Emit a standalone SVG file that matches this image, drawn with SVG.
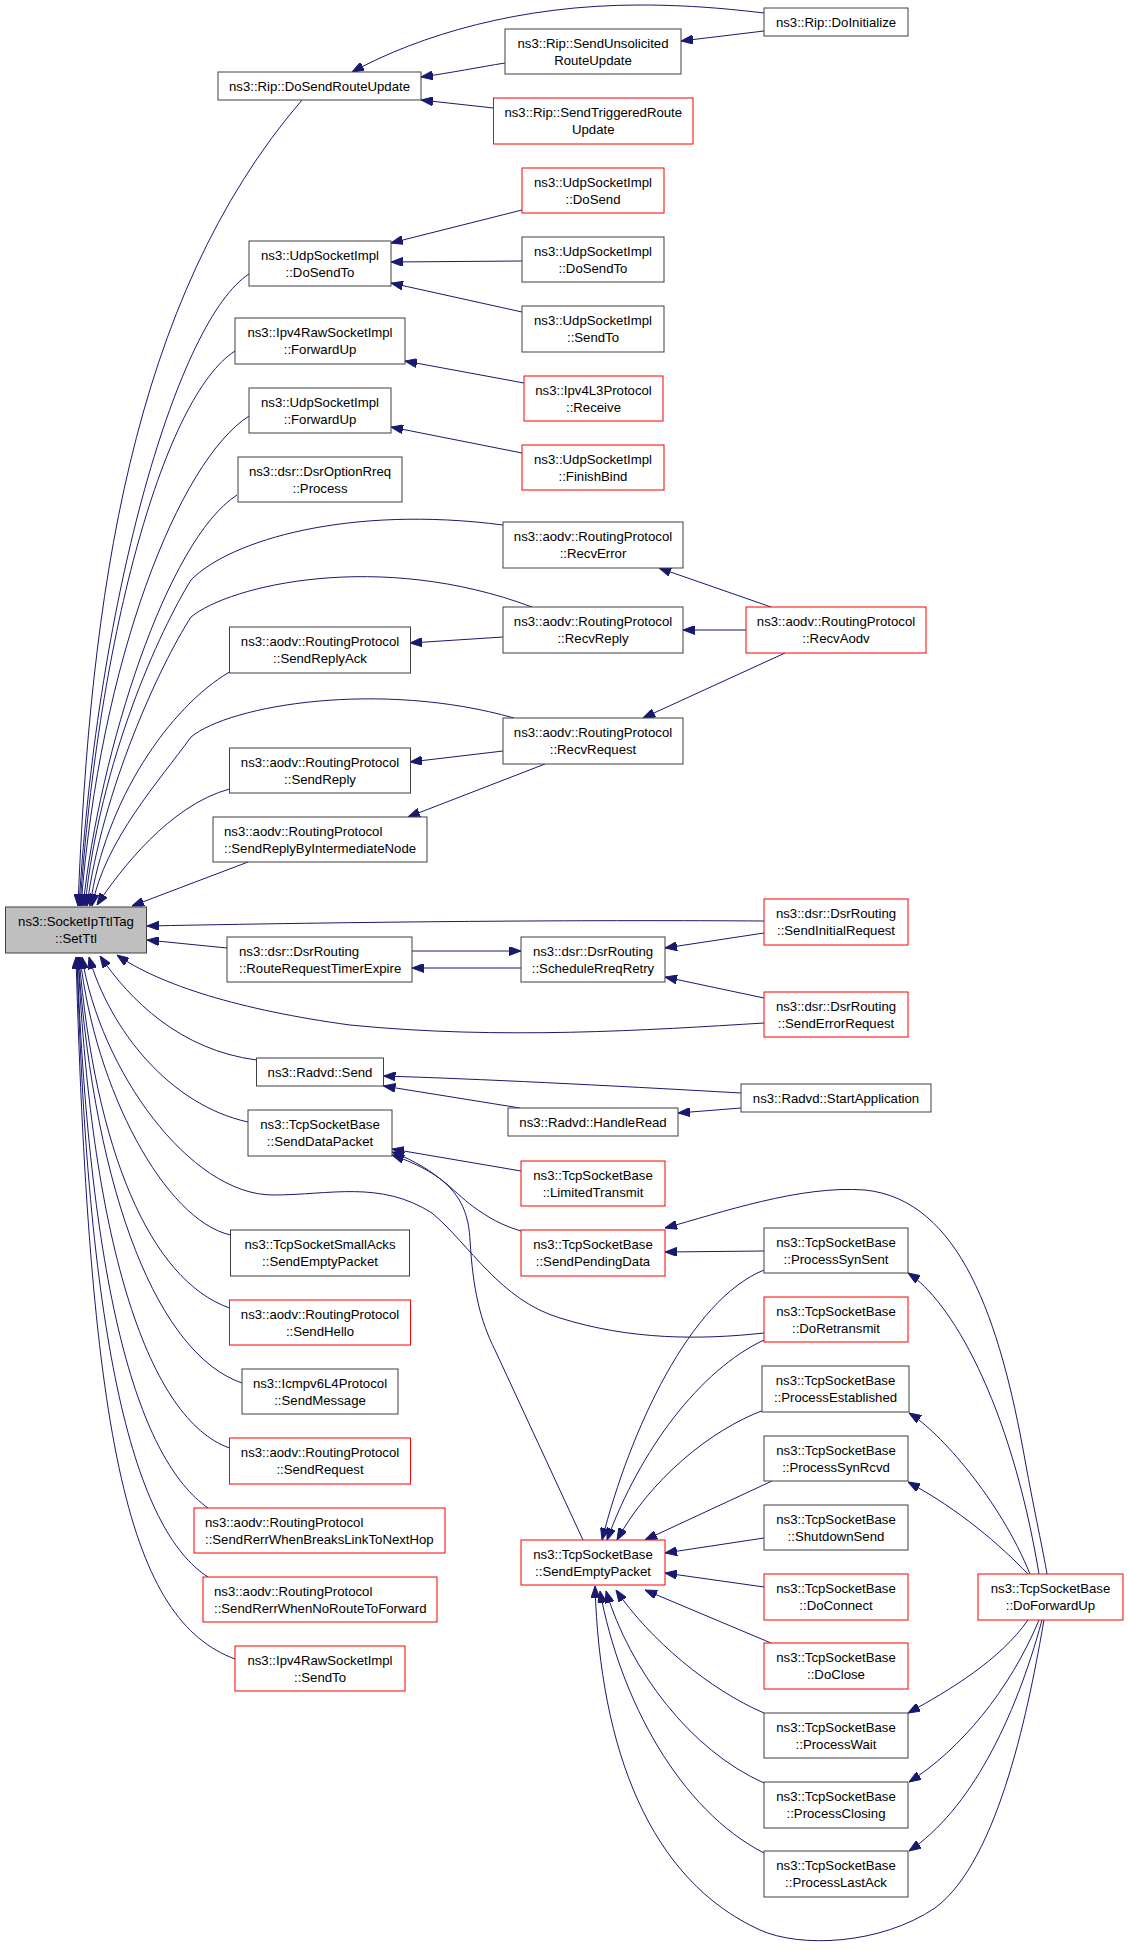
<svg xmlns="http://www.w3.org/2000/svg" width="1128" height="1950" viewBox="0 0 1128 1950">
<style>
.n rect{fill:#ffffff;stroke:#404040;stroke-width:1}
.n.r rect{stroke:#ff0000}
.n.g rect{fill:#bfbfbf}
.n text{font-family:"Liberation Sans",Arial,Helvetica,sans-serif;font-size:13.2px;fill:#000000;text-anchor:middle}
.n text.l{text-anchor:start}
#edges path{fill:none;stroke:#191970;stroke-width:1;marker-start:url(#a)}
</style>
<defs>
<marker id="a" viewBox="0 0 12 9" refX="12" refY="4.5" markerWidth="12" markerHeight="9" markerUnits="userSpaceOnUse" orient="auto-start-reverse">
<path d="M0,0 L12,4.5 L0,9 z" fill="#191970" stroke="#191970" stroke-width="1"/>
</marker>
</defs>
<rect x="0" y="0" width="1128" height="1950" fill="#ffffff"/>
<g id="edges">
<path d="M78,906 C90,600 130,300 302,100"/>
<path d="M79,906 C98,590 179,319 249,274"/>
<path d="M80,906 C99,630 165,396 235,351"/>
<path d="M81,906 C100,660 179,461 249,416"/>
<path d="M83,906 C100,750 167,540 237,495"/>
<path d="M85,906 C100,760 160,630 191,580 C230,540 350,505 503,525"/>
<path d="M87,906 C102,790 160,665 191,617 C230,585 380,550 532,607"/>
<path d="M90,906 C105,800 170,707 229.5,672"/>
<path d="M92,906 C105,840 160,780 191,737 C230,705 380,680 514,718"/>
<path d="M97,905 C120,870 170,805 229.5,789"/>
<path d="M132,906 L248,862"/>
<path d="M147,926 C400,921 600,920 764,921"/>
<path d="M147,940 L227,948"/>
<path d="M117,955 C160,985 240,1010 350,1025 C500,1040 650,1030 764,1023"/>
<path d="M100,956 C130,1000 180,1050 256.5,1060"/>
<path d="M89,957 C110,1030 170,1105 248,1122"/>
<path d="M82,957 C100,1070 190,1195 273,1195 C330,1195 380,1180 432,1213 C470,1245 500,1300 560,1318 C630,1340 700,1340 764,1333"/>
<path d="M80,957 C95,1090 165,1220 230.5,1235"/>
<path d="M79,957 C95,1150 150,1280 229.5,1308"/>
<path d="M78,957 C95,1200 160,1355 242,1383"/>
<path d="M78,957 C92,1250 150,1420 229.5,1448"/>
<path d="M77,957 C90,1300 140,1460 208,1508"/>
<path d="M77,957 C88,1350 135,1530 208,1577"/>
<path d="M76,957 C90,1450 130,1620 235,1659"/>
<path d="M352,72 C420,35 520,5 640,5 C690,5 730,9 764,13"/>
<path d="M421,77 C450,73 480,67 505,63"/>
<path d="M421,100 L493.5,108"/>
<path d="M681,41 L764,31"/>
<path d="M391,243 L522,210"/>
<path d="M391,262 L522,261"/>
<path d="M391,283 L522,312"/>
<path d="M405,361 L524,383"/>
<path d="M391,427 L522,453"/>
<path d="M659,568 L771,607"/>
<path d="M683,630 L746,630"/>
<path d="M643,718 L785,653"/>
<path d="M410,643 L503,637"/>
<path d="M410,762 L503,751"/>
<path d="M408,817 L545,764"/>
<path d="M521,951 L412,951"/>
<path d="M412,968 L521,968"/>
<path d="M665,948 L764,933"/>
<path d="M665,977 L764,998"/>
<path d="M383.5,1076 C480,1079 600,1085 741,1093"/>
<path d="M383.5,1086 L520,1108"/>
<path d="M678,1113 L741,1108"/>
<path d="M392,1149 L521,1171"/>
<path d="M392,1152 C440,1170 455,1195 478,1210 C495,1222 508,1227 521,1231"/>
<path d="M392,1155 C450,1175 468,1200 470,1240 C473,1290 480,1320 495,1350 L583,1540"/>
<path d="M665,1252 L764,1251"/>
<path d="M665,1228 C720,1213 800,1185 865,1190 C960,1200 1000,1320 1025,1460 C1035,1515 1043,1550 1047,1574"/>
<path d="M908,1273 C950,1300 1010,1400 1039,1574"/>
<path d="M909,1413 C940,1432 1000,1500 1030,1574"/>
<path d="M908,1482 C960,1510 1000,1545 1028,1574"/>
<path d="M908,1713 C950,1690 1000,1660 1028,1620"/>
<path d="M909,1782 C960,1750 1010,1690 1039,1620"/>
<path d="M909,1851 C970,1810 1015,1720 1042,1620"/>
<path d="M595,1586 C600,1750 650,1880 760,1930 C800,1948 880,1945 935,1908 C1000,1860 1030,1700 1044,1620"/>
<path d="M602,1540 C630,1430 690,1300 764,1270"/>
<path d="M607,1540 C640,1450 700,1370 764,1340"/>
<path d="M617,1540 C650,1480 710,1430 764,1410"/>
<path d="M645,1540 L772,1481"/>
<path d="M665,1553 L764,1538"/>
<path d="M665,1573 L764,1587"/>
<path d="M645,1590 L771,1643"/>
<path d="M616,1590 C650,1640 710,1690 764,1713"/>
<path d="M606,1591 C630,1670 690,1750 764,1783"/>
<path d="M600,1591 C620,1700 680,1810 764,1853"/>
</g>
<g id="settl" class="n g"><rect x="5.5" y="907" width="141" height="46"/><text x="76" y="925.5">ns3::SocketIpTtlTag</text><text x="76" y="942.5">::SetTtl</text></g>
<g id="dosendrouteupdate" class="n"><rect x="218" y="72" width="203" height="28"/><text x="319.5" y="90.5">ns3::Rip::DoSendRouteUpdate</text></g>
<g id="sendunsolicited" class="n"><rect x="505" y="29" width="176" height="45"/><text x="593" y="47.5">ns3::Rip::SendUnsolicited</text><text x="593" y="64.5">RouteUpdate</text></g>
<g id="sendtriggered" class="n r"><rect x="493.5" y="98" width="199.5" height="46"/><text x="593.25" y="116.5">ns3::Rip::SendTriggeredRoute</text><text x="593.25" y="133.5">Update</text></g>
<g id="doinitialize" class="n"><rect x="764" y="8" width="144" height="28"/><text x="836" y="26.5">ns3::Rip::DoInitialize</text></g>
<g id="udpdosend" class="n r"><rect x="522" y="168" width="142" height="45"/><text x="593" y="186.5">ns3::UdpSocketImpl</text><text x="593" y="203.5">::DoSend</text></g>
<g id="udpdosendto_r" class="n"><rect x="522" y="237" width="142" height="45"/><text x="593" y="255.5">ns3::UdpSocketImpl</text><text x="593" y="272.5">::DoSendTo</text></g>
<g id="udpsendto" class="n"><rect x="522" y="306" width="142" height="46"/><text x="593" y="324.5">ns3::UdpSocketImpl</text><text x="593" y="341.5">::SendTo</text></g>
<g id="ipv4l3receive" class="n r"><rect x="524" y="376" width="139" height="45"/><text x="593.5" y="394.5">ns3::Ipv4L3Protocol</text><text x="593.5" y="411.5">::Receive</text></g>
<g id="finishbind" class="n r"><rect x="522" y="445" width="142" height="45"/><text x="593" y="463.5">ns3::UdpSocketImpl</text><text x="593" y="480.5">::FinishBind</text></g>
<g id="udpdosendto_l" class="n"><rect x="249" y="241" width="142" height="45"/><text x="320" y="259.5">ns3::UdpSocketImpl</text><text x="320" y="276.5">::DoSendTo</text></g>
<g id="ipv4rawforwardup" class="n"><rect x="235" y="318" width="170" height="46"/><text x="320" y="336.5">ns3::Ipv4RawSocketImpl</text><text x="320" y="353.5">::ForwardUp</text></g>
<g id="udpforwardup" class="n"><rect x="249" y="388" width="142" height="45"/><text x="320" y="406.5">ns3::UdpSocketImpl</text><text x="320" y="423.5">::ForwardUp</text></g>
<g id="dsroptionrreq" class="n"><rect x="238" y="457" width="164" height="45"/><text x="320" y="475.5">ns3::dsr::DsrOptionRreq</text><text x="320" y="492.5">::Process</text></g>
<g id="recverror" class="n"><rect x="503" y="522" width="180" height="46"/><text x="593" y="540.5">ns3::aodv::RoutingProtocol</text><text x="593" y="557.5">::RecvError</text></g>
<g id="recvreply" class="n"><rect x="503" y="607" width="180" height="46"/><text x="593" y="625.5">ns3::aodv::RoutingProtocol</text><text x="593" y="642.5">::RecvReply</text></g>
<g id="recvrequest" class="n"><rect x="503" y="718" width="180" height="46"/><text x="593" y="736.5">ns3::aodv::RoutingProtocol</text><text x="593" y="753.5">::RecvRequest</text></g>
<g id="recvaodv" class="n r"><rect x="746" y="607" width="180" height="46"/><text x="836" y="625.5">ns3::aodv::RoutingProtocol</text><text x="836" y="642.5">::RecvAodv</text></g>
<g id="sendreplyack" class="n"><rect x="229.5" y="627" width="181" height="46"/><text x="320" y="645.5">ns3::aodv::RoutingProtocol</text><text x="320" y="662.5">::SendReplyAck</text></g>
<g id="sendreply" class="n"><rect x="229.5" y="748" width="181" height="45"/><text x="320" y="766.5">ns3::aodv::RoutingProtocol</text><text x="320" y="783.5">::SendReply</text></g>
<g id="sendreplybyintermediatenode" class="n"><rect x="213" y="817" width="214" height="45"/><text class="l" x="224" y="835.5">ns3::aodv::RoutingProtocol</text><text class="l" x="224" y="852.5">::SendReplyByIntermediateNode</text></g>
<g id="routerequesttimerexpire" class="n"><rect x="227" y="937" width="185" height="45"/><text class="l" x="239" y="955.5">ns3::dsr::DsrRouting</text><text class="l" x="239" y="972.5">::RouteRequestTimerExpire</text></g>
<g id="schedulerreqretry" class="n"><rect x="521" y="937" width="144" height="45"/><text x="593" y="955.5">ns3::dsr::DsrRouting</text><text x="593" y="972.5">::ScheduleRreqRetry</text></g>
<g id="sendinitialrequest" class="n r"><rect x="764" y="899" width="144" height="46"/><text x="836" y="917.5">ns3::dsr::DsrRouting</text><text x="836" y="934.5">::SendInitialRequest</text></g>
<g id="senderrorrequest" class="n r"><rect x="764" y="992" width="144" height="45"/><text x="836" y="1010.5">ns3::dsr::DsrRouting</text><text x="836" y="1027.5">::SendErrorRequest</text></g>
<g id="radvdsend" class="n"><rect x="256.5" y="1058" width="127" height="28"/><text x="320" y="1076.5">ns3::Radvd::Send</text></g>
<g id="handleread" class="n"><rect x="508" y="1108" width="170" height="28"/><text x="593" y="1126.5">ns3::Radvd::HandleRead</text></g>
<g id="startapplication" class="n"><rect x="741" y="1084" width="190" height="28"/><text x="836" y="1102.5">ns3::Radvd::StartApplication</text></g>
<g id="senddatapacket" class="n"><rect x="248" y="1110" width="144" height="46"/><text x="320" y="1128.5">ns3::TcpSocketBase</text><text x="320" y="1145.5">::SendDataPacket</text></g>
<g id="limitedtransmit" class="n r"><rect x="521" y="1161" width="144" height="45"/><text x="593" y="1179.5">ns3::TcpSocketBase</text><text x="593" y="1196.5">::LimitedTransmit</text></g>
<g id="sendpendingdata" class="n r"><rect x="521" y="1230" width="144" height="46"/><text x="593" y="1248.5">ns3::TcpSocketBase</text><text x="593" y="1265.5">::SendPendingData</text></g>
<g id="processsynsent" class="n"><rect x="764" y="1228" width="144" height="45"/><text x="836" y="1246.5">ns3::TcpSocketBase</text><text x="836" y="1263.5">::ProcessSynSent</text></g>
<g id="doretransmit" class="n r"><rect x="764" y="1297" width="144" height="45"/><text x="836" y="1315.5">ns3::TcpSocketBase</text><text x="836" y="1332.5">::DoRetransmit</text></g>
<g id="processestablished" class="n"><rect x="762" y="1366" width="147" height="46"/><text x="835.5" y="1384.5">ns3::TcpSocketBase</text><text x="835.5" y="1401.5">::ProcessEstablished</text></g>
<g id="processsynrcvd" class="n"><rect x="764" y="1436" width="144" height="45"/><text x="836" y="1454.5">ns3::TcpSocketBase</text><text x="836" y="1471.5">::ProcessSynRcvd</text></g>
<g id="smallacks" class="n"><rect x="230.5" y="1230" width="179" height="46"/><text x="320" y="1248.5">ns3::TcpSocketSmallAcks</text><text x="320" y="1265.5">::SendEmptyPacket</text></g>
<g id="sendhello" class="n r"><rect x="229.5" y="1300" width="181" height="45"/><text x="320" y="1318.5">ns3::aodv::RoutingProtocol</text><text x="320" y="1335.5">::SendHello</text></g>
<g id="icmpv6" class="n"><rect x="242" y="1369" width="156" height="45"/><text x="320" y="1387.5">ns3::Icmpv6L4Protocol</text><text x="320" y="1404.5">::SendMessage</text></g>
<g id="sendrequest" class="n r"><rect x="229.5" y="1438" width="181" height="46"/><text x="320" y="1456.5">ns3::aodv::RoutingProtocol</text><text x="320" y="1473.5">::SendRequest</text></g>
<g id="breakslink" class="n r"><rect x="194" y="1508" width="251" height="45"/><text class="l" x="205" y="1526.5">ns3::aodv::RoutingProtocol</text><text class="l" x="205" y="1543.5">::SendRerrWhenBreaksLinkToNextHop</text></g>
<g id="noroute" class="n r"><rect x="203" y="1577" width="234" height="45"/><text class="l" x="214" y="1595.5">ns3::aodv::RoutingProtocol</text><text class="l" x="214" y="1612.5">::SendRerrWhenNoRouteToForward</text></g>
<g id="ipv4rawsendto" class="n r"><rect x="235" y="1646" width="170" height="45"/><text x="320" y="1664.5">ns3::Ipv4RawSocketImpl</text><text x="320" y="1681.5">::SendTo</text></g>
<g id="sendemptypacket" class="n r"><rect x="521" y="1540" width="144" height="45"/><text x="593" y="1558.5">ns3::TcpSocketBase</text><text x="593" y="1575.5">::SendEmptyPacket</text></g>
<g id="shutdownsend" class="n"><rect x="764" y="1505" width="144" height="45"/><text x="836" y="1523.5">ns3::TcpSocketBase</text><text x="836" y="1540.5">::ShutdownSend</text></g>
<g id="doconnect" class="n r"><rect x="764" y="1574" width="144" height="46"/><text x="836" y="1592.5">ns3::TcpSocketBase</text><text x="836" y="1609.5">::DoConnect</text></g>
<g id="doclose" class="n r"><rect x="764" y="1643" width="144" height="46"/><text x="836" y="1661.5">ns3::TcpSocketBase</text><text x="836" y="1678.5">::DoClose</text></g>
<g id="processwait" class="n"><rect x="764" y="1713" width="144" height="45"/><text x="836" y="1731.5">ns3::TcpSocketBase</text><text x="836" y="1748.5">::ProcessWait</text></g>
<g id="processclosing" class="n"><rect x="764" y="1782" width="144" height="46"/><text x="836" y="1800.5">ns3::TcpSocketBase</text><text x="836" y="1817.5">::ProcessClosing</text></g>
<g id="processlastack" class="n"><rect x="764" y="1851" width="144" height="46"/><text x="836" y="1869.5">ns3::TcpSocketBase</text><text x="836" y="1886.5">::ProcessLastAck</text></g>
<g id="doforwardup" class="n r"><rect x="978" y="1574" width="145" height="46"/><text x="1050.5" y="1592.5">ns3::TcpSocketBase</text><text x="1050.5" y="1609.5">::DoForwardUp</text></g>
</svg>
